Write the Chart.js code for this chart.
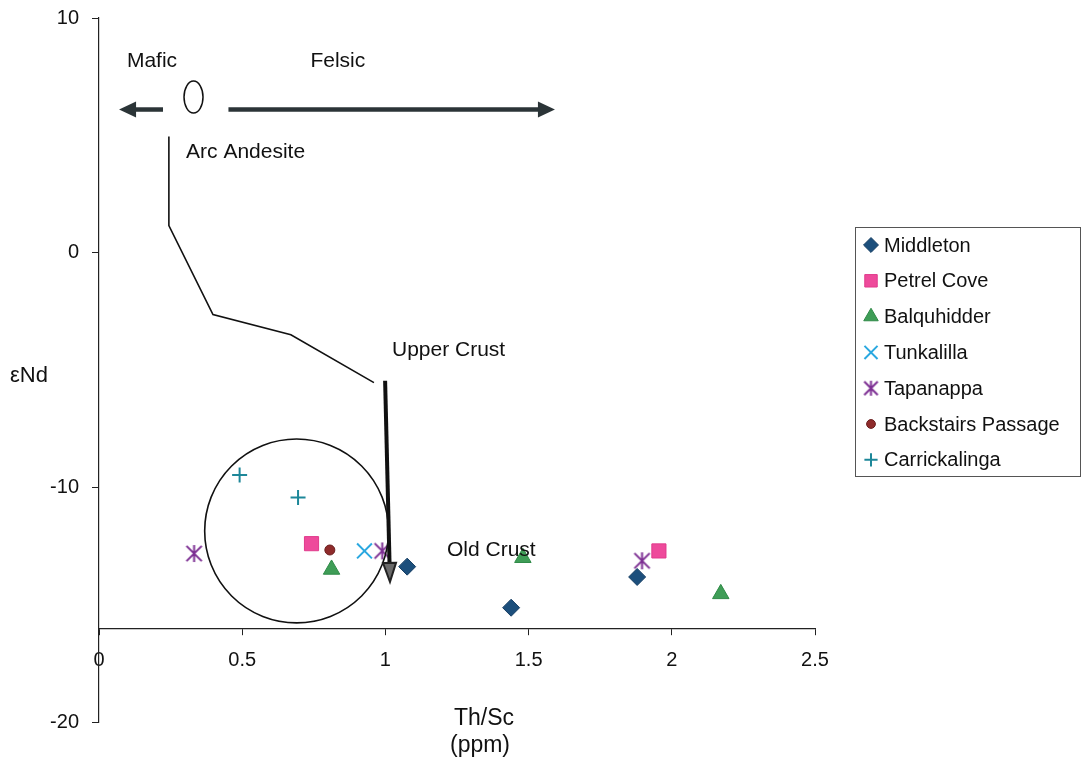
<!DOCTYPE html>
<html>
<head>
<meta charset="utf-8">
<script src="https://cdn.jsdelivr.net/npm/chart.js@4/dist/chart.umd.min.js"></script>
<style>
  html, body { margin: 0; padding: 0; background: #fff; }
  #wrap { width: 1083px; height: 770px; position: relative; }
</style>
</head>
<body>
<div id="wrap"><canvas id="c" width="1083" height="770"></canvas></div>
<script>
// Th/Sc (ppm) against εNd for each locality
const seriesNames = ['Middleton', 'Petrel Cove', 'Balquhidder', 'Tunkalilla', 'Tapanappa', 'Backstairs Passage', 'Carrickalinga'];

const middletonX = [1.076, 1.439, 1.879];
const middletonY = [-13.38, -15.13, -13.82];
const petrelCoveX = [0.742, 1.955];
const petrelCoveY = [-12.40, -12.71];
const balquhidderX = [0.812, 1.480, 2.171];
const balquhidderY = [-13.50, -13.00, -14.54];
const tunkalillaX = [0.927];
const tunkalillaY = [-12.71];
const tapanappaX = [0.332, 0.989, 1.896];
const tapanappaY = [-12.82, -12.71, -13.13];
const backstairsX = [0.806];
const backstairsY = [-12.67];
const carrickalingaX = [0.491, 0.695];
const carrickalingaY = [-9.47, -10.43];

const xTicks = [0, 0.5, 1, 1.5, 2, 2.5];
const xTickLabels = ['0', '0.5', '1', '1.5', '2', '2.5'];
const yTicks = [-20, -10, 0, 10];

const FONT = '"Liberation Sans", Arial, sans-serif';

// six-spoke asterisk marker
function makeAsterisk(size, color, lw) {
  const cv = document.createElement('canvas');
  cv.width = size + 4; cv.height = size + 4;
  const g = cv.getContext('2d');
  const c = (size + 4) / 2, h = size / 2, w = size * 0.45;
  g.strokeStyle = color; g.lineWidth = lw; g.lineCap = 'butt';
  g.beginPath();
  g.moveTo(c, c - h); g.lineTo(c, c + h);
  g.moveTo(c - w, c - w); g.lineTo(c + w, c + w);
  g.moveTo(c - w, c + w); g.lineTo(c + w, c - w);
  g.stroke();
  return cv;
}

const styles = [
  { pointStyle: 'rectRot',  radius: 8.5, fill: '#1c4f7c', stroke: '#173f64', bw: 1 },
  { pointStyle: 'rect',     radius: 10,  fill: '#ee4a9b', stroke: '#e03b8c', bw: 1 },
  { pointStyle: 'triangle', radius: 9.5, fill: '#3f9d57', stroke: '#2f8a47', bw: 1 },
  { pointStyle: 'crossRot', radius: 10.5, fill: '#2aa8e0', stroke: '#2aa8e0', bw: 2 },
  { pointStyle: makeAsterisk(17, '#7d2f93', 2), radius: 9, fill: '#7d2f93', stroke: '#7d2f93', bw: 2 },
  { pointStyle: 'circle',   radius: 5,   fill: '#8f2b2b', stroke: '#6a1e1e', bw: 1 },
  { pointStyle: 'cross',    radius: 7.5, fill: '#1d8799', stroke: '#1d8799', bw: 2 }
];
const legendAsterisk = makeAsterisk(15, '#7d2f93', 2);

const xs = [middletonX, petrelCoveX, balquhidderX, tunkalillaX, tapanappaX, backstairsX, carrickalingaX];
const ys = [middletonY, petrelCoveY, balquhidderY, tunkalillaY, tapanappaY, backstairsY, carrickalingaY];

const datasets = seriesNames.map((name, i) => ({
  label: name,
  data: xs[i].map((v, k) => ({ x: v, y: ys[i][k] })),
  pointStyle: styles[i].pointStyle,
  pointRadius: styles[i].radius,
  pointBackgroundColor: styles[i].fill,
  pointBorderColor: styles[i].stroke,
  pointBorderWidth: styles[i].bw,
  showLine: false
}));

// overlay geometry, in axis units
const leftArrow = { x0: 0.2235, x1: 0.070, y: 6.10 };
const rightArrow = { x0: 0.452, x1: 1.592, y: 6.10 };
const smallEllipse = { x: 0.330, y: 6.63 };
const trendPath = [[0.244, 4.95], [0.244, 1.15], [0.398, -2.64], [0.670, -3.50], [0.960, -5.54]];
const downArrow = { x0: 0.999, y0: -5.46, x1: 1.016, y1: -14.03 };
const groupCircle = { x: 0.690, y: -11.86, r: 0.321 };
const notes = [
  { text: 'Mafic', x: 0.185, y: 8.15, align: 'center' },
  { text: 'Felsic', x: 0.834, y: 8.15, align: 'center' },
  { text: 'Arc Andesite', x: 0.304, y: 4.26, align: 'left' },
  { text: 'Upper Crust', x: 1.023, y: -4.14, align: 'left' },
  { text: 'Old Crust', x: 1.215, y: -12.67, align: 'left' }
];

function arrowHead(ctx, tx, ty, ang, len, half) {
  ctx.beginPath();
  ctx.moveTo(tx, ty);
  ctx.lineTo(tx - len * Math.cos(ang) + half * Math.sin(ang), ty - len * Math.sin(ang) - half * Math.cos(ang));
  ctx.lineTo(tx - len * Math.cos(ang) - half * Math.sin(ang), ty - len * Math.sin(ang) + half * Math.cos(ang));
  ctx.closePath();
}

const overlayPlugin = {
  id: 'overlay',
  afterDatasetsDraw(chart) {
    const { ctx } = chart;
    const sx = chart.scales.x, sy = chart.scales.y;
    const X = v => sx.getPixelForValue(v), Y = v => sy.getPixelForValue(v);
    ctx.save();

    // group circle
    ctx.strokeStyle = '#111'; ctx.lineWidth = 1.6;
    ctx.beginPath();
    ctx.arc(X(groupCircle.x), Y(groupCircle.y), X(groupCircle.r) - X(0), 0, Math.PI * 2);
    ctx.stroke();

    // small ellipse
    ctx.lineWidth = 1.5;
    ctx.beginPath();
    ctx.ellipse(X(smallEllipse.x), Y(smallEllipse.y), 9.5, 16, 0, 0, Math.PI * 2);
    ctx.stroke();

    // mafic / felsic arrows
    ctx.strokeStyle = '#2b3437'; ctx.fillStyle = '#2b3437'; ctx.lineWidth = 4.5;
    [leftArrow, rightArrow].forEach(a => {
      const dir = a.x1 > a.x0 ? 1 : -1;
      ctx.beginPath();
      ctx.moveTo(X(a.x0), Y(a.y));
      ctx.lineTo(X(a.x1) - dir * 14, Y(a.y));
      ctx.stroke();
      arrowHead(ctx, X(a.x1), Y(a.y), dir > 0 ? 0 : Math.PI, 17, 8);
      ctx.fill();
    });

    // evolution path
    ctx.strokeStyle = '#111'; ctx.lineWidth = 1.6; ctx.lineJoin = 'miter';
    ctx.beginPath();
    trendPath.forEach((p, i) => i ? ctx.lineTo(X(p[0]), Y(p[1])) : ctx.moveTo(X(p[0]), Y(p[1])));
    ctx.stroke();

    // thick downward arrow
    const ax0 = X(downArrow.x0), ay0 = Y(downArrow.y0), ax1 = X(downArrow.x1), ay1 = Y(downArrow.y1);
    const ang = Math.atan2(ay1 - ay0, ax1 - ax0);
    ctx.strokeStyle = '#111'; ctx.lineWidth = 4;
    ctx.beginPath();
    ctx.moveTo(ax0, ay0);
    ctx.lineTo(ax1 - 16 * Math.cos(ang), ay1 - 16 * Math.sin(ang));
    ctx.stroke();
    arrowHead(ctx, ax1, ay1, ang, 19, 6.5);
    ctx.fillStyle = '#6a6a6a'; ctx.fill();
    ctx.lineWidth = 2; ctx.strokeStyle = '#222'; ctx.stroke();

    // labels
    ctx.fillStyle = '#111';
    ctx.font = '21px ' + FONT;
    ctx.textBaseline = 'middle';
    notes.forEach(n => {
      ctx.textAlign = n.align;
      ctx.fillText(n.text, X(n.x), Y(n.y));
    });
    ctx.restore();
  },
  afterDraw(chart) {
    const { ctx } = chart;
    ctx.save();
    // axis titles
    ctx.fillStyle = '#111';
    ctx.font = '23px ' + FONT;
    ctx.textAlign = 'center';
    ctx.textBaseline = 'alphabetic';
    ctx.fillText('Th/Sc', 484, 725);
    ctx.fillText('(ppm)', 480, 752);
    ctx.textAlign = 'left';
    ctx.textBaseline = 'middle';
    ctx.font = '22px ' + FONT;
    ctx.fillText('εNd', 10, 376);

    // legend
    const bx = 855.5, by = 227.5, bw = 225, bh = 249;
    ctx.strokeStyle = '#555'; ctx.lineWidth = 1;
    ctx.strokeRect(bx, by, bw, bh);
    ctx.font = '20px ' + FONT;
    ctx.textAlign = 'left';
    ctx.textBaseline = 'middle';
    chart.data.datasets.forEach((ds, i) => {
      const cy = 245 + i * 35.8;
      const st = styles[i];
      ctx.fillStyle = st.fill; ctx.strokeStyle = st.stroke; ctx.lineWidth = st.bw;
      Chart.helpers.drawPoint(ctx, {
        pointStyle: i === 4 ? legendAsterisk : st.pointStyle,
        radius: st.radius * 0.88,
        rotation: 0,
        borderWidth: st.bw
      }, 871, cy);
      ctx.fillStyle = '#111';
      ctx.fillText(ds.label, 884, cy + 1);
    });
    ctx.restore();
  }
};

new Chart(document.getElementById('c'), {
  type: 'scatter',
  data: { datasets },
  options: {
    responsive: false,
    animation: false,
    devicePixelRatio: 1,
    layout: { padding: { left: 0, right: 268, top: 18, bottom: 48 } },
    plugins: { legend: { display: false }, tooltip: { enabled: false } },
    scales: {
      x: {
        type: 'linear',
        min: 0, max: 2.5,
        position: { y: -16 },
        afterFit: s => { s.height = 0; s.paddingTop = 0; s.paddingBottom = 0; },
        afterBuildTicks: s => { s.ticks = xTicks.map(v => ({ value: v })); },
        ticks: {
          color: '#111', font: { family: FONT, size: 20 }, padding: 14, maxRotation: 0, autoSkip: false,
          callback: (v, i) => xTickLabels[i]
        },
        grid: { display: true, drawOnChartArea: false, drawTicks: true, tickLength: 6, color: '#222', lineWidth: 1 },
        border: { display: true, color: '#222', width: 1.2 }
      },
      y: {
        type: 'linear',
        min: -20, max: 10,
        afterFit: s => { s.width = 99; s.paddingTop = 0; s.paddingBottom = 0; },
        afterBuildTicks: s => { s.ticks = yTicks.map(v => ({ value: v })); },
        ticks: { color: '#111', font: { family: FONT, size: 20 }, padding: 13, autoSkip: false },
        grid: { display: true, drawOnChartArea: false, drawTicks: true, tickLength: 7, color: '#222', lineWidth: 1 },
        border: { display: true, color: '#222', width: 1.2 }
      }
    }
  },
  plugins: [overlayPlugin]
});
</script>
</body>
</html>
